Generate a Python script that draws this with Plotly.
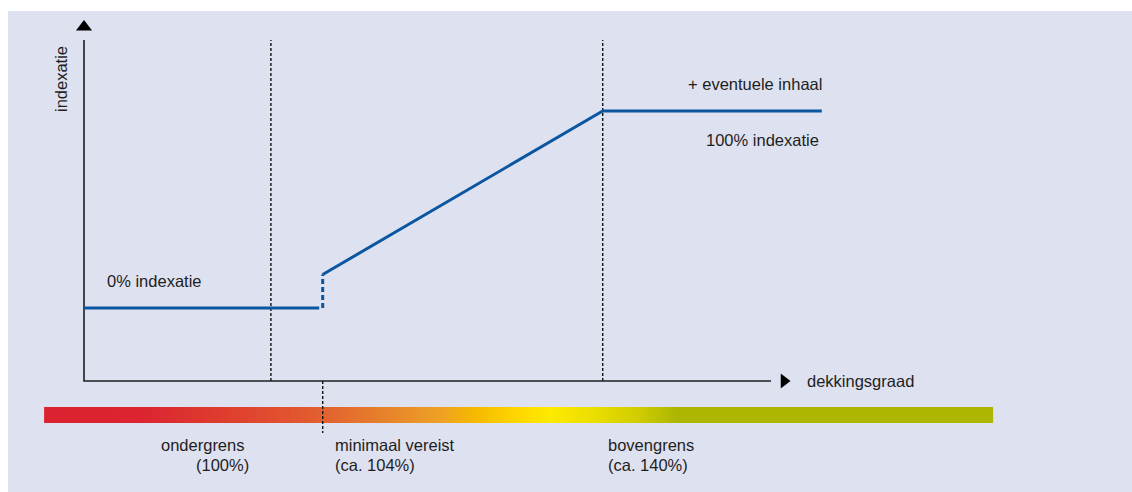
import numpy as np
import plotly.graph_objects as go

# --- schematic data -------------------------------------------------------
# horizontal axis: schematic dekkingsgraad position (origin = 0)
# vertical axis: indexatie in %
grens_namen = ["ondergrens", "minimaal vereist", "bovengrens"]
grens_labels = ["(100%)", "(ca. 104%)", "(ca. 140%)"]
grens_pos = [26.7, 34.1, 74.1]

# indexatie policy line
lijn_x_laag = [0.0, 33.6]          # 0% indexatie below the required level
lijn_y_laag = [0.0, 0.0]
sprong_x = [34.1, 34.1]             # step at minimaal vereist (dashed)
sprong_y = [0.0, 17.0]
lijn_x_hoog = [34.1, 74.1, 105.4]   # rising part up to the upper limit
lijn_y_hoog = [17.0, 100.0, 100.0]

# colour band along the dekkingsgraad axis
band_stops_x = [-5.7, 8.0, 23.7, 34.1, 45.1, 50.9, 55.6, 62.3, 66.6, 73.7, 79.3, 84.6, 129.9]
band_stops_kleur = ["#db2230", "#db2430", "#e0452f", "#e26030", "#e88a2a", "#eea025",
                    "#f5b800", "#ffd800", "#ffea00", "#e8dc00", "#cfcc00", "#adb600", "#adb600"]

# --- layout constants -------------------------------------------------------
W, H = 1132, 492
ML, MT = 8, 11
PX_X = 7.0      # pixels per x unit
PX_Y = 1.97     # pixels per % indexatie
X0_PX, Y0_PX = 84, 308


def xr(px):
    return (px - X0_PX) / PX_X


def yr(px):
    return (Y0_PX - px) / PX_Y


AS_Y = yr(381)      # horizontal axis level
AS_TOP = yr(40)
AS_END = xr(771)
DOT_TOP = yr(40)

BG = "#dee1ef"
INK = "#1e1e1e"
BLUE = "#0b56a1"
FONT = "Liberation Sans, Arial, sans-serif"

fig = go.Figure()

# colour band (heatmap of one row)
edges = np.linspace(band_stops_x[0], band_stops_x[-1], 600)
mids = (edges[:-1] + edges[1:]) / 2
lo, hi = band_stops_x[0], band_stops_x[-1]
cscale = [[(s - lo) / (hi - lo), c] for s, c in zip(band_stops_x, band_stops_kleur)]
fig.add_trace(go.Heatmap(
    x=edges, y=[yr(423), yr(407)], z=[mids],
    colorscale=cscale, zmin=lo, zmax=hi, showscale=False, hoverinfo="skip",
))

# dotted threshold lines
dot = dict(color="#111", width=1.4, dash="3px,2px")
fig.add_trace(go.Scatter(x=[grens_pos[0]] * 2, y=[AS_Y, DOT_TOP], mode="lines",
                         line=dot, hoverinfo="skip"))
fig.add_trace(go.Scatter(x=[grens_pos[2]] * 2, y=[AS_Y, DOT_TOP], mode="lines",
                         line=dot, hoverinfo="skip"))
fig.add_trace(go.Scatter(x=[grens_pos[1]] * 2, y=[AS_Y, yr(433)], mode="lines",
                         line=dot, hoverinfo="skip"))

# axes with arrowheads
fig.add_trace(go.Scatter(x=[0, 0, AS_END], y=[AS_TOP, AS_Y, AS_Y], mode="lines",
                         line=dict(color=INK, width=1.6), hoverinfo="skip"))
fig.add_trace(go.Scatter(x=[0], y=[yr(27)], mode="markers",
                         marker=dict(symbol="triangle-up", size=14, color="#000"), hoverinfo="skip"))
fig.add_trace(go.Scatter(x=[xr(784)], y=[AS_Y], mode="markers",
                         marker=dict(symbol="triangle-right", size=13, color="#000"), hoverinfo="skip"))

# indexatie line
fig.add_trace(go.Scatter(x=lijn_x_laag, y=lijn_y_laag, mode="lines",
                         line=dict(color=BLUE, width=3), hoverinfo="skip"))
fig.add_trace(go.Scatter(x=sprong_x, y=sprong_y, mode="lines",
                         line=dict(color=BLUE, width=3, dash="5px,3px"), hoverinfo="skip"))
fig.add_trace(go.Scatter(x=lijn_x_hoog, y=lijn_y_hoog, mode="lines",
                         line=dict(color=BLUE, width=3), hoverinfo="skip"))

fs = 16.5
ann = [
    dict(x=xr(61), y=yr(79), text="indexatie", textangle=-90, xanchor="center", yanchor="middle"),
    dict(x=xr(805), y=AS_Y, text="dekkingsgraad", xanchor="left", yanchor="middle"),
    dict(x=xr(105), y=yr(281), text="0% indexatie", xanchor="left", yanchor="middle"),
    dict(x=xr(686), y=yr(84), text="+ eventuele inhaal", xanchor="left", yanchor="middle"),
    dict(x=xr(704), y=yr(140), text="100% indexatie", xanchor="left", yanchor="middle"),
    # threshold captions
    dict(x=grens_pos[0], xshift=-25, y=yr(445), text=grens_namen[0], xanchor="right", yanchor="middle"),
    dict(x=grens_pos[0], xshift=-20, y=yr(465), text=grens_labels[0], xanchor="right", yanchor="middle"),
    dict(x=grens_pos[1], xshift=10, y=yr(445), text=grens_namen[1], xanchor="left", yanchor="middle"),
    dict(x=grens_pos[1], xshift=10, y=yr(465), text=grens_labels[1], xanchor="left", yanchor="middle"),
    dict(x=grens_pos[2], xshift=3, y=yr(445), text=grens_namen[2], xanchor="left", yanchor="middle"),
    dict(x=grens_pos[2], xshift=3, y=yr(465), text=grens_labels[2], xanchor="left", yanchor="middle"),
]
for a in ann:
    a.update(showarrow=False, xref="x", yref="y", font=dict(family=FONT, size=fs, color=INK))
fig.update_layout(annotations=ann)

fig.update_layout(
    width=W, height=H,
    margin=dict(l=ML, r=0, t=MT, b=0),
    paper_bgcolor="white", plot_bgcolor=BG,
    showlegend=False,
    xaxis=dict(range=[xr(ML), xr(W)], visible=False, fixedrange=True),
    yaxis=dict(range=[yr(H), yr(MT)], visible=False, fixedrange=True),
)

fig.write_html("out.html")
